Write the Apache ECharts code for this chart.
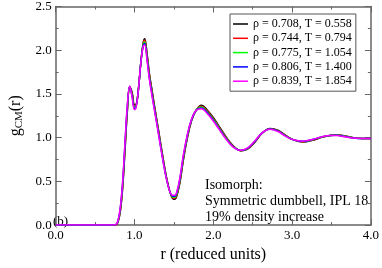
<!DOCTYPE html>
<html><head><meta charset="utf-8">
<script src="https://cdn.jsdelivr.net/npm/echarts@6/dist/echarts.min.js"></script>
<style>html,body{margin:0;padding:0;background:#fff}#c{width:382px;height:268px}</style>
</head><body><div id="c"></div>
<script>
const r = [0, 0.70, 0.76, 0.79, 0.82, 0.85, 0.88, 0.91, 0.94, 0.97, 1.00, 1.02, 1.05, 1.08, 1.11, 1.13, 1.16, 1.19, 1.22, 1.25, 1.29, 1.33, 1.37, 1.41, 1.45, 1.48, 1.51, 1.54, 1.58, 1.62, 1.67, 1.72, 1.78, 1.85, 1.92, 2.00, 2.07, 2.14, 2.21, 2.28, 2.35, 2.43, 2.52, 2.62, 2.72, 2.82, 2.92, 3.02, 3.14, 3.26, 3.38, 3.48, 3.57, 3.67, 3.78, 3.89, 4.00];
const g708 = [0, 0, 0, 0.03, 0.15, 0.42, 0.85, 1.30, 1.58, 1.52, 1.38, 1.38, 1.55, 1.85, 2.08, 2.13, 1.96, 1.73, 1.56, 1.39, 1.17, 0.95, 0.73, 0.53, 0.38, 0.31, 0.295, 0.34, 0.50, 0.74, 0.99, 1.18, 1.31, 1.37, 1.32, 1.23, 1.135, 1.04, 0.95, 0.885, 0.85, 0.865, 0.94, 1.05, 1.105, 1.085, 1.025, 0.975, 0.95, 0.97, 1.005, 1.025, 1.032, 1.02, 1.00, 0.99, 0.99];
const g744 = [0, 0, 0.001, 0.035, 0.16, 0.44, 0.875, 1.32, 1.583, 1.505, 1.365, 1.37, 1.55, 1.85, 2.07, 2.113, 1.94, 1.713, 1.543, 1.375, 1.158, 0.938, 0.72, 0.525, 0.38, 0.318, 0.306, 0.353, 0.515, 0.755, 1.00, 1.185, 1.31, 1.36, 1.31, 1.22, 1.126, 1.033, 0.945, 0.883, 0.851, 0.869, 0.944, 1.051, 1.103, 1.081, 1.023, 0.975, 0.953, 0.973, 1.006, 1.025, 1.030, 1.018, 0.999, 0.99, 0.99];
const g775 = [0, 0, 0.003, 0.04, 0.175, 0.46, 0.90, 1.34, 1.585, 1.49, 1.35, 1.36, 1.55, 1.85, 2.06, 2.095, 1.92, 1.695, 1.525, 1.36, 1.145, 0.925, 0.71, 0.52, 0.38, 0.325, 0.318, 0.365, 0.53, 0.77, 1.01, 1.19, 1.31, 1.35, 1.30, 1.21, 1.118, 1.025, 0.94, 0.88, 0.853, 0.873, 0.948, 1.053, 1.10, 1.078, 1.02, 0.975, 0.955, 0.975, 1.008, 1.025, 1.029, 1.015, 0.998, 0.99, 0.99];
const g806 = [0, 0, 0.004, 0.045, 0.19, 0.48, 0.925, 1.36, 1.588, 1.475, 1.335, 1.35, 1.55, 1.85, 2.05, 2.078, 1.90, 1.678, 1.508, 1.345, 1.133, 0.913, 0.70, 0.515, 0.38, 0.333, 0.329, 0.378, 0.545, 0.785, 1.02, 1.195, 1.31, 1.34, 1.29, 1.20, 1.109, 1.018, 0.935, 0.878, 0.854, 0.876, 0.951, 1.054, 1.098, 1.074, 1.018, 0.975, 0.958, 0.978, 1.009, 1.025, 1.027, 1.013, 0.996, 0.99, 0.99];
const g839 = [0, 0, 0.005, 0.05, 0.20, 0.50, 0.95, 1.38, 1.59, 1.46, 1.32, 1.34, 1.55, 1.85, 2.04, 2.06, 1.88, 1.66, 1.49, 1.33, 1.12, 0.90, 0.69, 0.51, 0.38, 0.34, 0.34, 0.39, 0.56, 0.80, 1.03, 1.20, 1.31, 1.33, 1.28, 1.19, 1.10, 1.01, 0.93, 0.875, 0.855, 0.88, 0.955, 1.055, 1.095, 1.07, 1.015, 0.975, 0.96, 0.98, 1.01, 1.025, 1.025, 1.01, 0.995, 0.99, 0.99];
const seriesNames = ['ρ = 0.708, T = 0.558', 'ρ = 0.744, T = 0.794', 'ρ = 0.775, T = 1.054', 'ρ = 0.806, T = 1.400', 'ρ = 0.839, T = 1.854'];
const seriesColors = ['#000000', '#ff0000', '#00ff00', '#0000ff', '#ff00ff'];
const xTicks = [0, 1, 2, 3, 4];
const yTicks = [0, 0.5, 1.0, 1.5, 2.0, 2.5];

const allValues = [g708, g744, g775, g806, g839];
const serif = 'Liberation Serif';
const axisColor = '#666';

function makeAxis(isX, primary) {
  const ticks = isX ? xTicks : yTicks;
  return {
    type: 'value',
    min: ticks[0], max: ticks[ticks.length - 1],
    interval: ticks[1] - ticks[0],
    position: isX ? (primary ? 'bottom' : 'top') : (primary ? 'left' : 'right'),
    axisLine: { show: true, onZero: false, lineStyle: { color: axisColor, width: 1.5 } },
    axisTick: { show: true, inside: true, length: 6, lineStyle: { color: axisColor } },
    minorTick: { show: true, splitNumber: 2, length: 3, lineStyle: { color: axisColor } },
    splitLine: { show: false },
    axisLabel: primary ? { show: true, fontFamily: serif, fontSize: 13, color: '#000', margin: 4, formatter: v => v.toFixed(1) } : { show: false }
  };
}

const xAxes = [makeAxis(true, true), makeAxis(true, false)];
xAxes[0].name = 'r (reduced units)';
xAxes[0].nameLocation = 'middle';
xAxes[0].nameGap = 21;
xAxes[0].nameTextStyle = { fontFamily: serif, fontSize: 16, color: '#000' };
const yAxes = [makeAxis(false, true), makeAxis(false, false)];
yAxes[0].name = 'g{s|CM}(r)';
yAxes[0].nameLocation = 'middle';
yAxes[0].nameRotate = 90;
yAxes[0].nameGap = 28;
yAxes[0].nameTextStyle = { fontFamily: serif, fontSize: 16, color: '#000', rich: { s: { fontFamily: serif, fontSize: 11, color: '#000', verticalAlign: 'bottom', padding: [6, 0, 0, 0] } } };

const chart = echarts.init(document.getElementById('c'), null, { renderer: 'canvas' });
chart.setOption({
  animation: false,
  backgroundColor: '#fff',
  grid: { left: 41, right: 9, top: 5, bottom: 31, containLabel: false },
  xAxis: xAxes,
  yAxis: yAxes,
  legend: {
    orient: 'vertical', left: 230, top: 14,
    padding: [4, 4, 4, 3],
    itemGap: 2.3, itemWidth: 15, itemHeight: 1.5, itemTextGap: 6,
    icon: 'rect',
    borderColor: '#555', borderWidth: 1, backgroundColor: '#fff',
    textStyle: { fontFamily: serif, fontSize: 12, color: '#000', lineHeight: 12 },
    data: seriesNames
  },
  graphic: [
    { type: 'text', left: 205, top: 177, style: { text: 'Isomorph:\nSymmetric dumbbell, IPL 18\n19% density increase', font: '14px "Liberation Serif"', fill: '#000', lineHeight: 16 } },
    { type: 'text', left: 53, top: 215, style: { text: '(b)', font: '13px "Liberation Serif"', fill: '#000' } }
  ],
  series: allValues.map((vals, i) => ({
    type: 'line', name: seriesNames[i], xAxisIndex: 0, yAxisIndex: 0,
    data: r.map((x, k) => [x, vals[k]]),
    smooth: 0.4, showSymbol: false, symbol: 'none', clip: true,
    lineStyle: { color: seriesColors[i], width: 1.5 },
    itemStyle: { color: seriesColors[i] },
    z: 2 + i
  }))
});
</script></body></html>
